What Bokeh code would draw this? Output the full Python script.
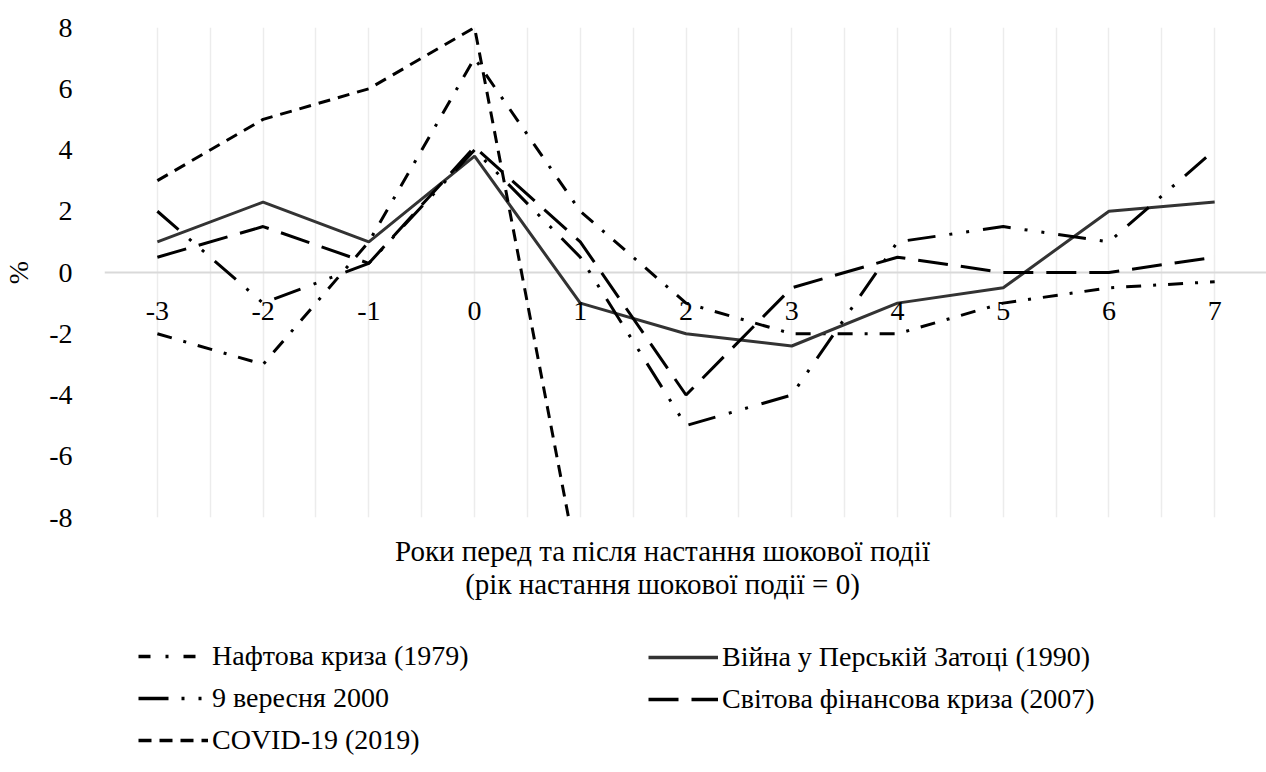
from bokeh.plotting import figure
from bokeh.layouts import column
from bokeh.models import Range1d, FixedTicker, Legend, LegendItem, Label, Span
from bokeh.core.properties import value
from bokeh.embed import file_html
from bokeh.resources import INLINE
import numpy as np

# ---- data ----
years = [-3, -2, -1, 0, 1, 2, 3, 4, 5, 6, 7]
oil_1979 = [-2, -3, 1, 7, 2, -1, -2, -2, -1, -0.5, -0.3]
gulf_1990 = [1, 2.3, 1, 3.8, -1, -2, -2.4, -1, -0.5, 2, 2.3]
sep_2000 = [2, -1, 0.3, 4, 0.5, -5, -4, 1, 1.5, 1, 4]
gfc_2007 = [0.5, 1.5, 0.3, 4.1, 1, -4, -0.5, 0.5, 0, 0, 0.5]
covid_years = [-3, -2, -1, 0, 1]
covid_2019 = [3, 5, 6, 8, -10]
y_ticks = [-8, -6, -4, -2, 0, 2, 4, 6, 8]
x_tick_labels = [str(v) for v in years]
y_tick_labels = {v: str(v) for v in y_ticks}

names = ["Нафтова криза (1979)", "Війна у Перській Затоці (1990)",
         "9 вересня 2000", "Світова фінансова криза (2007)", "COVID-19 (2019)"]
x_title_1 = "Роки перед та після настання шокової події"
x_title_2 = "(рік настання шокової події = 0)"

FONT = "Liberation Serif"
FS = "28px"
FS_TITLE = "29px"

styles = [
    dict(line_color="black", line_width=3, line_dash="15 12 3 12"),
    dict(line_color="#333333", line_width=3),
    dict(line_color="black", line_width=3, line_dash="28 14 3 14 3 14"),
    dict(line_color="black", line_width=3, line_dash="30 13"),
    dict(line_color="black", line_width=3, line_dash="12 8"),
]
legend_styles = [
    dict(line_color="black", line_width=3.5, line_dash="12 15 3 15"),
    dict(line_color="#333333", line_width=3.5),
    dict(line_color="black", line_width=3.5, line_dash="30 13 3 14 3 14"),
    dict(line_color="black", line_width=3.5, line_dash="30 13"),
    dict(line_color="black", line_width=3.5, line_dash="13 8"),
]

FRAME_LEFT = 101
H1 = 532

p = figure(width=1266, height=H1, output_backend="svg", toolbar_location=None,
           x_range=Range1d(-3.5, 7.49), y_range=Range1d(-8, 8),
           min_border_left=FRAME_LEFT, min_border_right=0, min_border_top=27,
           min_border_bottom=H1 - 27 - 490)
p.outline_line_color = None

p.ygrid.visible = False
p.xgrid.ticker = FixedTicker(ticks=list(np.arange(years[0] - 0.5, years[-1] + 0.01, 0.5)))
p.xgrid.grid_line_color = "#ececec"
p.xgrid.grid_line_width = 1.5
p.add_layout(Span(location=0, dimension="width", line_color="#d9d9d9",
                  line_width=2, level="underlay"))

p.xaxis.visible = False

p.yaxis.ticker = FixedTicker(ticks=y_ticks)
p.yaxis.major_label_overrides = y_tick_labels
p.yaxis.axis_line_color = None
p.yaxis.major_tick_line_color = None
p.yaxis.minor_tick_line_color = None
p.yaxis.major_label_standoff = 26
p.yaxis.major_label_text_font = FONT
p.yaxis.major_label_text_font_size = FS
p.yaxis.major_label_text_color = "black"
p.yaxis.axis_label = "%"
p.yaxis.axis_label_text_font = FONT
p.yaxis.axis_label_text_font_size = FS
p.yaxis.axis_label_text_font_style = "normal"
p.yaxis.axis_label_text_color = "black"
p.yaxis.axis_label_standoff = 12

r_oil = p.line(years, oil_1979, **styles[0])
r_gulf = p.line(years, gulf_1990, **styles[1])
r_sep = p.line(years, sep_2000, **styles[2])
r_gfc = p.line(years, gfc_2007, **styles[3])
r_cov = p.line(covid_years, covid_2019, **styles[4])

# category labels sitting under the zero line
p.text(x=years, y=[0] * len(years), text=x_tick_labels, y_offset=38,
       text_align="center", text_baseline="middle",
       text_font=value(FONT), text_font_size=FS, text_color="black")

# ---- lower panel: axis title + legend (frame aligned with chart frame) ----
H2 = 772 - H1
q = figure(width=1266, height=H2, output_backend="svg", toolbar_location=None,
           x_range=Range1d(0, 1266 - FRAME_LEFT), y_range=Range1d(0, H2),
           min_border=0, min_border_left=FRAME_LEFT,
           x_axis_location=None, y_axis_location=None)
q.outline_line_color = None
q.xgrid.visible = False
q.ygrid.visible = False

for txt, yy in [(x_title_1, 222), (x_title_2, 189)]:
    q.add_layout(Label(x=659 - FRAME_LEFT, y=yy, x_units="screen", y_units="screen", text=txt,
                       text_align="center", text_baseline="middle",
                       text_font=FONT, text_font_size=FS_TITLE, text_color="black"))

# legend-only renderers (no visible data)
dummies = [q.line(x=[np.nan], y=[np.nan], **s) for s in legend_styles]

def make_legend(items, loc):
    lg = Legend(items=items, location=loc, orientation="vertical")
    lg.glyph_width = 70
    lg.glyph_height = 30
    lg.label_height = 30
    lg.label_standoff = 4
    lg.spacing = 10
    lg.padding = 0
    lg.margin = 0
    lg.border_line_color = None
    lg.background_fill_alpha = 0
    lg.label_text_font = FONT
    lg.label_text_font_size = FS
    lg.label_text_color = "black"
    return lg

leg1 = make_legend([LegendItem(label=names[0], renderers=[dummies[0]]),
                    LegendItem(label=names[2], renderers=[dummies[2]]),
                    LegendItem(label=names[4], renderers=[dummies[4]])], (135 - FRAME_LEFT, 16))
leg2 = make_legend([LegendItem(label=names[1], renderers=[dummies[1]]),
                    LegendItem(label=names[3], renderers=[dummies[3]])], (645 - FRAME_LEFT, 57))
q.add_layout(leg1)
q.add_layout(leg2)

layout = column(p, q, spacing=0)
open("out.html", "w").write(file_html(layout, INLINE))
